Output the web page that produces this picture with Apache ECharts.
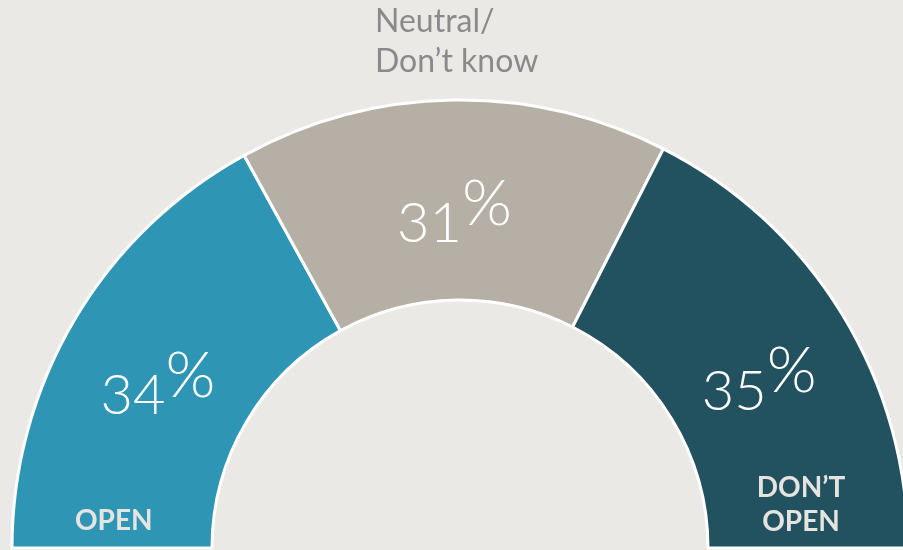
<!DOCTYPE html>
<html><head><meta charset="utf-8">
<script src="https://cdn.jsdelivr.net/npm/echarts@6/dist/echarts.min.js"></script>
<style>html,body{margin:0;padding:0;background:#EBE9E6;}#c{width:903px;height:550px;}</style>
</head><body><div id="c"></div>
<script>
const categories = ['OPEN', 'Neutral/\nDon\u2019t know', 'DON\u2019T\nOPEN'];
const values = [34, 31, 35];
const colors = ['#2E95B4', '#B5AFA5', '#225260'];

const total = values.reduce((a, b) => a + b, 0);
const data = values.map((v, i) => ({ name: categories[i], value: v, itemStyle: { color: colors[i] } }));
data.push({ name: '_hidden', value: total, itemStyle: { color: 'rgba(0,0,0,0)', borderWidth: 0 }, label: { show: false }, emphasis: { disabled: true } });

const chart = echarts.init(document.getElementById('c'));
chart.setOption({
  backgroundColor: '#EBE9E6',
  animation: false,
  series: [{
    type: 'pie',
    center: [460, 548],
    radius: [248, 448],
    startAngle: 180,
    clockwise: true,
    avoidLabelOverlap: false,
    silent: true,
    itemStyle: { borderColor: '#ffffff', borderWidth: 3 },
    label: {
      show: true,
      position: 'inner',
      padding: [30, 0, 0, 0],
      formatter: p => '{n|' + p.value + '}{p|%}',
      rich: {
        n: { fontFamily: 'Lato', fontWeight: 300, fontSize: 56, color: '#ffffff', lineHeight: 80, verticalAlign: 'bottom' },
        p: { fontFamily: 'Lato', fontWeight: 300, fontSize: 64, color: '#ffffff', lineHeight: 64, verticalAlign: 'top' }
      }
    },
    labelLine: { show: false },
    data: data
  }],
  graphic: [
    { type: 'text', z: 100, x: 75, y: 507, style: { text: categories[0], font: 'bold 28px Lato', fill: '#E6E4E1' } },
    { type: 'text', z: 100, x: 375, y: 2, style: { text: categories[1], font: '32px Lato', fill: '#8A8A8A', lineHeight: 40, textAlign: 'left' } },
    { type: 'text', z: 100, x: 801, y: 471, style: { text: categories[2], font: 'bold 28px Lato', fill: '#E6E4E1', lineHeight: 34, textAlign: 'center' } }
  ]
});
</script></body></html>
